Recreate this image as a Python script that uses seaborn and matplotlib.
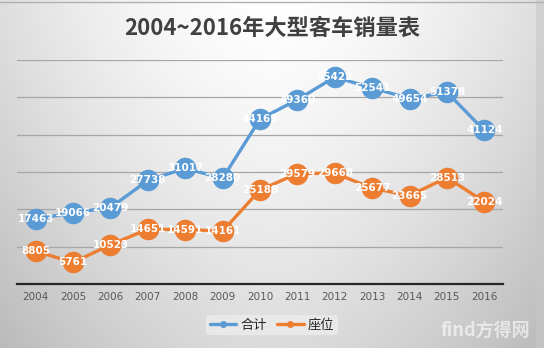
import numpy as np
import pandas as pd
import matplotlib
matplotlib.use("Agg")
import matplotlib.pyplot as plt
import seaborn as sns

years = [2004, 2005, 2006, 2007, 2008, 2009, 2010, 2011, 2012, 2013, 2014, 2015, 2016]
total = [17463, 19066, 20479, 27738, 31017, 28280, 44169, 49360, 55423, 52541, 49654, 51378, 41124]
seats = [8805, 5761, 10523, 14651, 14591, 14161, 25188, 29579, 29668, 25677, 23665, 28513, 22024]
series_names = ["合计", "座位"]
title = "2004~2016年大型客车销量表"

sns.set_theme(style="white")
plt.rcParams["font.family"] = ["Noto Sans CJK SC", "DejaVu Sans"]

df = pd.DataFrame({
    "year": years * 2,
    "value": total + seats,
    "series": [series_names[0]] * len(years) + [series_names[1]] * len(years),
})
palette = {series_names[0]: "#5B9BD5", series_names[1]: "#ED7D31"}

fig = plt.figure(figsize=(5.44, 3.48), dpi=100)

# soft grey gradient background, lighter toward the top centre
bg = fig.add_axes([0, 0, 1, 1], zorder=-10)
gx = np.linspace(-1, 1, 544)[None, :]
gy = np.linspace(0, 1, 348)[:, None]
shade = 1.0 - 0.13 * np.abs(gx) ** 1.6 - 0.14 * gy ** 1.3
shade = np.clip(shade, 0, 1)
bg.imshow(np.dstack([shade] * 3), aspect="auto", extent=[0, 1, 0, 1], origin="upper")
bg.plot([0, 1], [0.995, 0.995], color="#b0b0b0", lw=1)
bg.axvspan(0.985, 1.0, color="#c8c8c8", alpha=0.6, lw=0)
bg.set_xlim(0, 1)
bg.set_ylim(0, 1)
bg.axis("off")

ax = fig.add_axes([17 / 544, 1 - 284 / 348, (503 - 17) / 544, (284 - 60) / 348])
ax.patch.set_alpha(0)

sns.lineplot(data=df, x="year", y="value", hue="series", palette=palette,
             marker="o", markersize=15.5, linewidth=2.4, markeredgewidth=0,
             ax=ax, legend=False, zorder=3)

for _, row in df.iterrows():
    ax.text(row["year"], row["value"], f"{row['value']}", ha="center", va="center",
            color="white", fontsize=7.5, fontweight="bold", zorder=5,
            family="DejaVu Sans")

ax.set_xlim(years[0] - 0.5, years[-1] + 0.5)
ax.set_ylim(0, 60000)
ax.set_yticks(np.arange(10000, 60001, 10000))
ax.yaxis.grid(True, color="#a6a6a6", linewidth=0.9)
ax.set_axisbelow(True)
ax.set_yticklabels([])
ax.tick_params(axis="y", length=0)
ax.set_xticks(years)
ax.set_xticklabels([str(y) for y in years], fontsize=7.5, color="#595959", family="DejaVu Sans")
ax.tick_params(axis="x", length=0, pad=6)
ax.set_xlabel("")
ax.set_ylabel("")
for side in ["left", "right", "top"]:
    ax.spines[side].set_visible(False)
ax.spines["bottom"].set_color("#262626")
ax.spines["bottom"].set_linewidth(1.6)

fig.text(0.5, 1 - 28 / 348, title, ha="center", va="center", fontsize=16,
         fontweight="bold", color="#404040")

handles = [plt.Line2D([], [], color=palette[n], lw=2.4, marker="o", markersize=4) for n in series_names]
leg = fig.legend(handles, series_names, loc="center", bbox_to_anchor=(0.5, 1 - 325 / 348),
                 ncol=2, frameon=True, fontsize=9.5, handlelength=2.0, columnspacing=0.8,
                 handletextpad=0.3, borderpad=0.3)
leg.get_frame().set_facecolor("#ececec")
leg.get_frame().set_edgecolor("none")
leg.get_frame().set_alpha(0.8)

fig.text(0.975, 1 - 330 / 348, "find方得网", ha="right", va="center", fontsize=13,
         fontweight="bold", color="white", alpha=0.6)

fig.savefig("out.png", dpi=100)
